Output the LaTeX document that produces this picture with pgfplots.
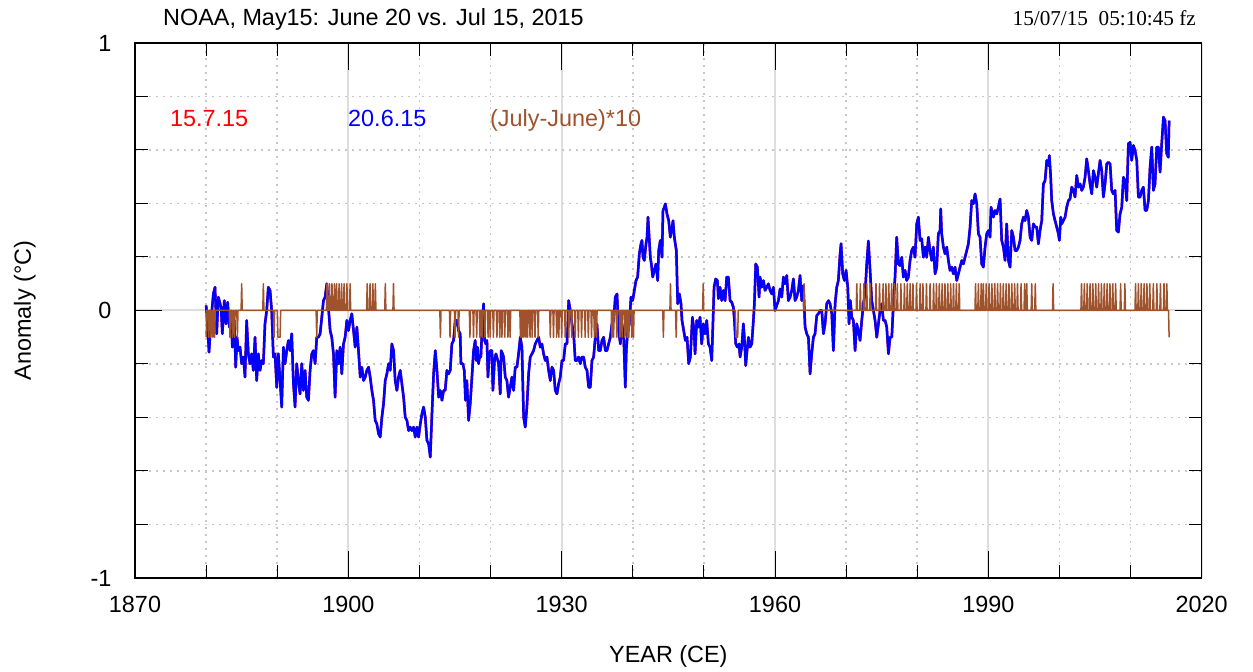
\documentclass[border=0pt]{standalone}
\usepackage{fontspec}
\setmainfont{Liberation Sans}
\newfontfamily\seriffont{Liberation Serif}
\usepackage{pgfplots}
\usepackage{pgfplotstable}
\pgfplotsset{compat=1.18}
\definecolor{myblue}{RGB}{0,0,255}
\definecolor{myred}{RGB}{255,0,0}
\definecolor{mybrown}{RGB}{160,82,45}
\newcommand\bigfont{\fontsize{23.4pt}{28pt}\selectfont}

\pgfplotstableread[row sep=\\]{
year value\\
1880.00 0.019\\ 1880.10 -0.012\\ 1880.41 -0.156\\ 1880.69 -0.037\\ 1881.02 0.062\\ 1881.25 0.087\\ 1881.49 -0.087\\ 1881.72 0.050\\
1882.10 0.012\\ 1882.28 -0.087\\ 1882.56 0.037\\ 1882.80 -0.050\\ 1883.03 0.031\\ 1883.27 -0.062\\ 1883.50 -0.012\\ 1883.69 -0.137\\
1883.97 -0.037\\ 1884.16 -0.212\\ 1884.35 -0.100\\ 1884.53 -0.150\\ 1884.77 -0.137\\ 1885.00 -0.199\\ 1885.24 -0.174\\ 1885.47 -0.249\\
1885.70 -0.037\\ 1885.94 -0.162\\ 1886.17 -0.199\\ 1886.41 -0.162\\ 1886.64 -0.224\\ 1886.88 -0.100\\ 1887.11 -0.262\\ 1887.35 -0.162\\
1887.58 -0.224\\ 1887.82 -0.187\\ 1888.05 -0.199\\ 1888.28 -0.050\\ 1888.52 0.000\\ 1888.75 0.087\\ 1888.99 0.075\\ 1889.22 0.000\\
1889.46 -0.174\\ 1889.69 -0.162\\ 1889.93 -0.287\\ 1890.16 -0.162\\ 1890.40 -0.262\\ 1890.63 -0.361\\ 1890.87 -0.137\\ 1891.10 -0.199\\
1891.34 -0.150\\ 1891.57 -0.112\\ 1891.81 -0.150\\ 1892.04 -0.087\\ 1892.28 -0.274\\ 1892.51 -0.361\\ 1892.74 -0.199\\ 1892.98 -0.262\\
1893.21 -0.312\\ 1893.45 -0.199\\ 1893.68 -0.299\\ 1893.92 -0.224\\ 1894.15 -0.324\\ 1894.39 -0.336\\ 1894.62 -0.224\\ 1894.86 -0.162\\
1895.09 -0.150\\ 1895.33 -0.199\\ 1895.56 -0.100\\ 1895.80 -0.100\\ 1896.03 -0.087\\ 1896.27 -0.025\\ 1896.50 0.037\\ 1896.73 0.050\\
1896.97 0.100\\ 1897.20 0.012\\ 1897.44 -0.075\\ 1897.67 -0.100\\ 1897.91 -0.162\\ 1898.14 -0.324\\ 1898.38 -0.150\\ 1898.61 -0.199\\
1898.85 -0.137\\ 1899.08 -0.237\\ 1899.32 -0.125\\ 1899.55 -0.100\\ 1899.79 -0.037\\ 1900.02 -0.075\\ 1900.26 -0.037\\ 1900.49 -0.012\\
1900.73 -0.075\\ 1900.96 -0.137\\ 1901.20 -0.062\\ 1901.43 -0.150\\ 1901.67 -0.249\\ 1901.90 -0.212\\ 1902.14 -0.262\\ 1902.37 -0.249\\
1902.60 -0.224\\ 1902.84 -0.212\\ 1903.07 -0.249\\ 1903.31 -0.299\\ 1903.54 -0.336\\ 1903.78 -0.411\\ 1904.01 -0.424\\ 1904.25 -0.461\\
1904.48 -0.473\\ 1904.72 -0.399\\ 1904.95 -0.349\\ 1905.19 -0.262\\ 1905.42 -0.237\\ 1905.66 -0.199\\ 1905.89 -0.224\\ 1906.12 -0.125\\
1906.36 -0.150\\ 1906.59 -0.262\\ 1906.83 -0.299\\ 1907.06 -0.249\\ 1907.30 -0.224\\ 1907.53 -0.274\\ 1907.77 -0.324\\ 1908.00 -0.399\\
1908.24 -0.411\\ 1908.47 -0.449\\ 1908.71 -0.436\\ 1908.94 -0.449\\ 1909.18 -0.436\\ 1909.41 -0.473\\ 1909.65 -0.436\\ 1909.88 -0.473\\
1910.12 -0.424\\ 1910.35 -0.386\\ 1910.58 -0.361\\ 1910.82 -0.399\\ 1911.05 -0.486\\ 1911.29 -0.498\\ 1911.52 -0.548\\ 1911.76 -0.386\\
1911.99 -0.237\\ 1912.23 -0.150\\ 1912.46 -0.224\\ 1912.70 -0.324\\ 1912.93 -0.299\\ 1913.17 -0.336\\ 1913.40 -0.299\\
1913.62 -0.299\\ 1913.86 -0.224\\ 1914.09 -0.237\\ 1914.33 -0.224\\ 1914.56 -0.125\\ 1914.80 -0.112\\ 1915.03 -0.037\\ 1915.27 -0.037\\
1915.50 -0.075\\ 1915.73 -0.087\\ 1915.83 -0.199\\ 1916.11 -0.199\\ 1916.30 -0.224\\ 1916.48 -0.336\\ 1916.67 -0.262\\ 1916.91 -0.411\\
1917.14 -0.349\\ 1917.38 -0.249\\ 1917.61 -0.150\\ 1917.84 -0.112\\ 1917.99 -0.187\\ 1918.17 -0.137\\ 1918.31 -0.199\\ 1918.45 -0.174\\
1918.64 -0.174\\ 1918.83 -0.050\\ 1919.02 0.025\\ 1919.16 -0.112\\ 1919.35 -0.125\\ 1919.49 -0.112\\ 1919.63 -0.249\\ 1919.81 -0.174\\
1919.96 -0.150\\ 1920.19 -0.150\\ 1920.33 -0.299\\ 1920.56 -0.187\\ 1920.75 -0.162\\ 1920.89 -0.174\\ 1921.13 -0.199\\ 1921.36 -0.312\\
1921.50 -0.150\\ 1921.69 -0.162\\ 1921.83 -0.174\\ 1922.07 -0.249\\ 1922.30 -0.262\\ 1922.53 -0.324\\ 1922.77 -0.287\\ 1923.00 -0.249\\
1923.24 -0.299\\ 1923.47 -0.212\\ 1923.71 -0.212\\ 1923.94 -0.162\\ 1924.18 -0.100\\ 1924.41 -0.137\\ 1924.65 -0.399\\ 1924.88 -0.436\\
1925.11 -0.361\\ 1925.35 -0.237\\ 1925.58 -0.174\\ 1925.82 -0.162\\ 1926.05 -0.150\\ 1926.29 -0.125\\ 1926.52 -0.112\\ 1926.76 -0.100\\
1926.99 -0.137\\ 1927.22 -0.125\\ 1927.46 -0.162\\ 1927.69 -0.187\\ 1927.93 -0.174\\ 1928.16 -0.224\\ 1928.40 -0.262\\ 1928.63 -0.212\\
1928.87 -0.224\\ 1929.10 -0.299\\ 1929.34 -0.312\\ 1929.57 -0.274\\ 1929.80 -0.249\\ 1930.04 -0.187\\ 1930.27 -0.187\\ 1930.51 -0.125\\
1930.74 -0.125\\ 1930.88 -0.050\\ 1930.98 0.037\\ 1931.21 0.000\\ 1931.45 -0.050\\ 1931.68 -0.087\\ 1931.91 -0.187\\ 1932.15 -0.187\\
1932.38 -0.174\\ 1932.62 -0.199\\ 1932.85 -0.174\\ 1933.09 -0.174\\ 1933.32 -0.212\\ 1933.56 -0.224\\ 1933.79 -0.287\\ 1934.03 -0.287\\
1934.26 -0.187\\ 1934.49 -0.174\\ 1934.73 -0.100\\ 1934.96 -0.050\\ 1935.20 -0.150\\ 1935.43 -0.150\\ 1935.67 -0.112\\ 1935.90 -0.100\\
1936.14 -0.150\\ 1936.37 -0.150\\ 1936.60 -0.125\\ 1936.84 -0.100\\ 1937.07 -0.050\\ 1937.31 -0.037\\ 1937.54 0.050\\ 1937.78 0.062\\
1938.01 -0.075\\ 1938.25 -0.125\\ 1938.48 -0.050\\ 1938.72 -0.100\\ 1938.95 -0.287\\ 1939.09 -0.150\\ 1939.28 -0.075\\ 1939.51 -0.050\\
1939.75 0.050\\ 1939.98 0.037\\ 1940.22 0.075\\ 1940.45 0.112\\ 1940.68 0.125\\ 1940.92 0.212\\ 1941.15 0.249\\ 1941.29 0.262\\
1941.44 0.199\\ 1941.62 0.187\\ 1941.86 0.249\\ 1942.00 0.274\\ 1942.14 0.349\\ 1942.33 0.262\\ 1942.47 0.199\\ 1942.61 0.174\\
1942.80 0.125\\ 1943.03 0.150\\ 1943.26 0.174\\ 1943.50 0.112\\ 1943.64 0.224\\ 1943.87 0.262\\ 1944.11 0.199\\ 1944.25 0.374\\
1944.44 0.386\\ 1944.58 0.399\\ 1944.81 0.361\\ 1945.05 0.336\\ 1945.28 0.274\\ 1945.52 0.312\\ 1945.66 0.336\\ 1945.84 0.274\\
1945.98 0.249\\ 1946.13 0.224\\ 1946.31 0.025\\ 1946.55 0.062\\ 1946.78 0.025\\ 1946.92 -0.037\\ 1947.16 -0.075\\ 1947.39 -0.112\\
1947.63 -0.100\\ 1947.86 -0.199\\ 1948.10 -0.174\\
1948.38 -0.025\\ 1948.62 -0.075\\ 1948.76 -0.162\\ 1948.99 -0.037\\ 1949.23 -0.062\\ 1949.46 -0.025\\ 1949.69 -0.125\\ 1949.93 -0.050\\
1950.16 -0.087\\ 1950.40 -0.037\\ 1950.63 -0.125\\ 1950.87 -0.137\\ 1951.10 -0.187\\ 1951.24 -0.075\\ 1951.43 0.087\\ 1951.66 0.118\\
1951.90 0.112\\ 1952.04 0.044\\ 1952.27 0.087\\ 1952.51 0.037\\ 1952.74 0.075\\ 1952.98 0.037\\ 1953.21 0.125\\ 1953.44 0.125\\
1953.68 0.037\\ 1953.91 0.031\\ 1954.15 0.012\\ 1954.29 -0.037\\ 1954.48 -0.125\\ 1954.71 -0.137\\ 1954.94 -0.125\\ 1955.09 -0.174\\
1955.32 -0.137\\ 1955.55 -0.050\\ 1955.69 -0.100\\ 1955.88 -0.206\\ 1956.07 -0.150\\ 1956.26 -0.100\\ 1956.49 -0.137\\ 1956.73 -0.125\\
1956.96 -0.037\\ 1957.10 0.025\\ 1957.29 0.174\\ 1957.52 0.162\\ 1957.76 0.050\\ 1957.90 0.125\\ 1958.13 0.087\\ 1958.37 0.112\\
1958.60 0.075\\ 1958.84 0.087\\ 1959.07 0.100\\ 1959.30 0.075\\ 1959.54 0.062\\ 1959.77 0.087\\ 1960.01 0.000\\ 1960.24 0.019\\
1960.48 0.037\\ 1960.71 0.081\\ 1960.95 0.050\\ 1961.18 0.125\\ 1961.41 0.100\\ 1961.65 0.131\\ 1961.88 0.037\\ 1962.12 0.050\\
1962.35 0.075\\ 1962.59 0.118\\ 1962.82 0.037\\ 1963.05 0.050\\ 1963.29 0.075\\ 1963.52 0.131\\ 1963.76 0.037\\ 1963.99 0.093\\
1964.23 -0.062\\ 1964.46 -0.087\\ 1964.70 -0.100\\ 1964.93 -0.237\\ 1965.16 -0.162\\ 1965.40 -0.100\\ 1965.63 -0.087\\ 1965.87 -0.019\\
1966.10 -0.012\\ 1966.34 0.000\\ 1966.57 0.000\\ 1966.81 -0.087\\ 1967.04 -0.050\\ 1967.27 0.025\\ 1967.51 0.037\\ 1967.74 0.025\\
1967.98 -0.012\\ 1968.21 -0.150\\ 1968.45 0.025\\ 1968.68 0.087\\ 1968.91 0.112\\ 1969.15 0.212\\ 1969.29 0.250\\ 1969.52 0.137\\
1969.76 0.112\\ 1969.99 0.150\\ 1970.23 0.087\\ 1970.41 -0.050\\ 1970.60 0.037\\ 1970.79 -0.025\\ 1971.02 -0.037\\ 1971.26 -0.150\\
1971.49 -0.050\\ 1971.73 -0.075\\ 1971.96 -0.112\\ 1972.20 -0.037\\ 1972.43 0.025\\ 1972.66 0.062\\ 1972.90 0.174\\ 1973.13 0.260\\
1973.37 0.150\\ 1973.60 0.037\\ 1973.84 0.000\\ 1974.07 -0.037\\ 1974.31 -0.100\\ 1974.54 -0.050\\ 1974.77 0.000\\ 1975.01 0.025\\
1975.24 -0.037\\ 1975.48 -0.037\\ 1975.71 -0.062\\ 1975.95 -0.162\\ 1976.18 -0.100\\ 1976.42 -0.100\\ 1976.65 0.025\\
1976.88 0.125\\ 1977.11 0.274\\ 1977.35 0.174\\ 1977.58 0.168\\ 1977.82 0.199\\ 1978.05 0.125\\ 1978.29 0.150\\ 1978.52 0.112\\
1978.75 0.125\\ 1978.99 0.187\\ 1979.22 0.224\\ 1979.46 0.237\\ 1979.69 0.199\\ 1979.93 0.324\\ 1980.16 0.349\\ 1980.40 0.262\\
1980.63 0.268\\ 1980.86 0.199\\ 1981.10 0.237\\ 1981.33 0.199\\ 1981.57 0.274\\ 1981.80 0.224\\ 1982.04 0.187\\ 1982.27 0.237\\
1982.51 0.137\\ 1982.74 0.162\\ 1982.97 0.287\\ 1983.21 0.299\\ 1983.30 0.380\\ 1983.44 0.287\\ 1983.68 0.237\\ 1983.91 0.212\\
1984.15 0.237\\ 1984.38 0.187\\ 1984.61 0.150\\ 1984.85 0.162\\ 1985.08 0.137\\ 1985.32 0.162\\ 1985.55 0.112\\ 1985.79 0.137\\
1986.02 0.162\\ 1986.26 0.187\\ 1986.49 0.174\\ 1986.72 0.199\\ 1986.96 0.224\\ 1987.19 0.249\\ 1987.43 0.312\\ 1987.66 0.411\\
1987.90 0.399\\ 1988.13 0.436\\ 1988.37 0.399\\ 1988.60 0.287\\ 1988.83 0.274\\ 1989.07 0.174\\ 1989.30 0.162\\ 1989.54 0.237\\
1989.77 0.287\\ 1990.01 0.299\\ 1990.24 0.274\\ 1990.38 0.386\\ 1990.71 0.349\\ 1990.94 0.374\\ 1991.18 0.361\\ 1991.41 0.386\\
1991.65 0.417\\ 1991.88 0.262\\ 1992.12 0.237\\ 1992.35 0.187\\ 1992.58 0.324\\ 1992.82 0.187\\ 1993.05 0.162\\ 1993.29 0.299\\
1993.52 0.274\\ 1993.76 0.224\\ 1993.99 0.224\\ 1994.23 0.237\\ 1994.46 0.262\\ 1994.69 0.324\\ 1994.93 0.349\\ 1995.16 0.336\\
1995.40 0.374\\ 1995.63 0.349\\ 1995.87 0.274\\ 1996.10 0.262\\ 1996.33 0.324\\ 1996.57 0.312\\ 1996.80 0.312\\ 1997.04 0.249\\
1997.27 0.299\\ 1997.51 0.336\\ 1997.74 0.473\\ 1997.98 0.486\\
1998.21 0.561\\ 1998.44 0.542\\ 1998.58 0.579\\ 1998.77 0.498\\ 1998.91 0.411\\ 1999.15 0.361\\ 1999.38 0.336\\ 1999.61 0.312\\
1999.85 0.287\\ 1999.99 0.262\\ 2000.18 0.349\\ 2000.32 0.324\\ 2000.55 0.336\\ 2000.79 0.349\\ 2001.02 0.386\\ 2001.26 0.411\\
2001.49 0.417\\ 2001.72 0.461\\ 2001.96 0.449\\ 2002.19 0.424\\ 2002.43 0.505\\ 2002.66 0.461\\ 2002.90 0.473\\ 2003.13 0.449\\
2003.36 0.461\\ 2003.60 0.498\\ 2003.83 0.567\\ 2004.07 0.523\\ 2004.30 0.473\\ 2004.54 0.436\\ 2004.77 0.523\\ 2005.01 0.498\\
2005.24 0.461\\ 2005.47 0.511\\ 2005.71 0.561\\ 2005.94 0.523\\ 2006.18 0.424\\ 2006.41 0.473\\ 2006.65 0.548\\ 2006.88 0.554\\
2007.12 0.548\\ 2007.35 0.449\\ 2007.58 0.436\\ 2007.82 0.449\\ 2008.05 0.299\\ 2008.29 0.293\\ 2008.52 0.361\\ 2008.76 0.386\\
2008.99 0.498\\ 2009.22 0.486\\ 2009.46 0.411\\ 2009.69 0.623\\ 2009.93 0.629\\ 2010.16 0.561\\ 2010.40 0.617\\ 2010.63 0.598\\
2010.87 0.561\\ 2011.10 0.424\\ 2011.33 0.424\\ 2011.57 0.449\\ 2011.80 0.461\\ 2012.04 0.374\\ 2012.27 0.374\\ 2012.51 0.411\\
2012.74 0.536\\ 2012.98 0.611\\ 2013.21 0.449\\ 2013.44 0.473\\ 2013.68 0.611\\ 2013.91 0.611\\ 2014.15 0.517\\ 2014.38 0.623\\
2014.62 0.723\\ 2014.85 0.710\\ 2015.08 0.586\\ 2015.31 0.573\\ 2015.42 0.710\\
}\bluedata

\begin{document}
\begin{tikzpicture}
\useasboundingbox (0,0) rectangle (1253pt,672pt);
\begin{axis}[
  at={(135pt,94pt)}, anchor=south west,
  scale only axis, width=1066.7pt, height=535pt,
  xmin=1870, xmax=2020, ymin=-1, ymax=1,
  xtick={1870,1900,1930,1960,1990,2020},
  xticklabels={1870,1900,1930,1960,1990,2020},
  minor x tick num=2,
  ytick={-1,0,1}, yticklabels={-1,0,1},
  minor y tick num=4,
  tick align=inside,
  major tick length=27pt, minor tick length=13pt,
  tick style={black, line width=1pt},
  grid=both,
  major grid style={line width=2pt, color=black!13},
  minor grid style={line width=1.8pt, color=black!22, dash pattern=on 2pt off 5pt},
  axis line style={line width=1.3pt},
  tick label style={font=\bigfont},
  xticklabel style={yshift=-15pt},
  yticklabel style={xshift=-20pt},
  every axis x label/.style={at={(axis description cs:0.5,0)}, anchor=base, yshift=-84pt, font=\bigfont},
  every axis y label/.style={at={(axis description cs:-0.0975,0.5)}, anchor=base, rotate=90, font=\bigfont},
  xlabel={YEAR (CE)},
  ylabel={Anomaly (°C)},
]
\addplot[myred, line width=2.5pt, line join=round] table[x=year,y=value]{\bluedata};
\addplot[myblue, line width=2.5pt, line join=round] table[x=year,y=value]{\bluedata};
\addplot[mybrown, line width=1.5pt, line join=round] coordinates {
(1880.00,-0.1)(1880.08,0)
(1880.27,0)(1880.35,-0.1)(1880.43,0)
(1880.57,0)(1880.65,-0.1)(1880.73,0)
(1880.87,0)(1880.95,-0.1)(1881.03,0)
(1881.12,0)(1881.20,-0.1)(1881.28,0)
(1883.27,0)(1883.35,-0.1)(1883.43,0)
(1883.62,0)(1883.70,-0.1)(1883.78,0)
(1883.92,0)(1884.00,-0.1)(1884.08,0)
(1884.32,0)(1884.40,-0.1)(1884.48,0)
(1884.92,0)(1885.00,0.1)(1885.08,0)
(1887.97,0)(1888.05,0.1)(1888.13,0)
(1889.47,0)(1889.55,-0.1)(1889.63,0)
(1890.02,0)(1890.10,-0.1)(1890.40,-0.1)(1890.48,0)
(1895.47,0)(1895.55,-0.1)(1895.63,0)
(1896.92,0)(1897.00,0.1)(1897.08,0)
(1897.27,0)(1897.35,0.1)(1897.43,0)
(1897.62,0)(1897.70,0.1)(1897.78,0)
(1897.97,0)(1898.05,0.1)(1898.13,0)
(1898.27,0)(1898.35,0.1)(1898.43,0)
(1898.62,0)(1898.70,0.1)(1898.78,0)
(1898.97,0)(1899.05,0.1)(1899.13,0)
(1899.32,0)(1899.40,0.1)(1899.48,0)
(1899.72,0)(1899.80,0.1)(1899.88,0)
(1900.17,0)(1900.25,0.1)(1900.33,0)
(1902.57,0)(1902.65,0.1)(1902.73,0)
(1902.97,0)(1903.05,0.1)(1903.13,0)
(1903.37,0)(1903.45,0.1)(1903.53,0)
(1903.72,0)(1903.80,0.1)(1903.88,0)
(1905.12,0)(1905.20,0.1)(1905.28,0)
(1906.27,0)(1906.35,0.1)(1906.43,0)
(1912.87,0)(1912.95,-0.1)(1913.03,0)
(1914.22,0)(1914.30,-0.1)(1914.38,0)
(1914.92,0)(1915.00,-0.1)(1915.08,0)
(1915.42,0)(1915.50,-0.1)(1915.58,0)
(1917.02,0)(1917.10,-0.1)(1917.18,0)
(1917.52,0)(1917.60,-0.1)(1917.68,0)
(1917.97,0)(1918.05,-0.1)(1918.13,0)
(1918.42,0)(1918.50,-0.1)(1918.58,0)
(1918.72,0)(1918.80,-0.1)(1918.88,0)
(1919.12,0)(1919.20,-0.1)(1919.28,0)
(1919.57,0)(1919.65,-0.1)(1919.73,0)
(1919.87,0)(1919.95,-0.1)(1920.03,0)
(1920.32,0)(1920.40,-0.1)(1920.48,0)
(1920.82,0)(1920.90,-0.1)(1920.98,0)
(1921.22,0)(1921.30,-0.1)(1921.38,0)
(1921.52,0)(1921.60,-0.1)(1921.68,0)
(1921.92,0)(1922.00,-0.1)(1922.08,0)
(1922.37,0)(1922.45,-0.1)(1922.53,0)
(1922.67,0)(1922.75,-0.1)(1922.83,0)
(1924.12,0)(1924.20,-0.1)(1924.28,0)
(1924.37,0)(1924.45,-0.1)(1924.53,0)
(1924.62,0)(1924.70,-0.1)(1924.78,0)
(1924.87,0)(1924.95,-0.1)(1925.03,0)
(1925.12,0)(1925.20,-0.1)(1925.28,0)
(1925.47,0)(1925.55,-0.1)(1925.63,0)
(1925.77,0)(1925.85,-0.1)(1925.93,0)
(1926.17,0)(1926.25,-0.1)(1926.33,0)
(1926.62,0)(1926.70,-0.1)(1926.78,0)
(1928.32,0)(1928.40,-0.1)(1928.48,0)
(1928.77,0)(1928.85,-0.1)(1928.93,0)
(1929.22,0)(1929.30,-0.1)(1929.38,0)
(1929.52,0)(1929.60,-0.1)(1929.68,0)
(1929.92,0)(1930.00,-0.1)(1930.08,0)
(1930.42,0)(1930.50,-0.1)(1930.58,0)
(1930.92,0)(1931.00,-0.1)(1931.08,0)
(1931.32,0)(1931.40,-0.1)(1931.48,0)
(1931.82,0)(1931.90,-0.1)(1931.98,0)
(1932.27,0)(1932.35,-0.1)(1932.43,0)
(1932.72,0)(1932.80,-0.1)(1932.88,0)
(1933.22,0)(1933.30,-0.1)(1933.38,0)
(1933.67,0)(1933.75,-0.1)(1933.83,0)
(1934.12,0)(1934.20,-0.1)(1934.28,0)
(1934.52,0)(1934.60,-0.1)(1934.68,0)
(1934.82,0)(1934.90,-0.1)(1934.98,0)
(1936.97,0)(1937.05,-0.1)(1937.13,0)
(1937.22,0)(1937.30,-0.1)(1937.38,0)
(1937.67,0)(1937.75,-0.1)(1937.83,0)
(1938.12,0)(1938.20,-0.1)(1938.28,0)
(1938.42,0)(1938.50,-0.1)(1938.58,0)
(1938.82,0)(1938.90,-0.1)(1938.98,0)
(1939.12,0)(1939.20,-0.1)(1939.28,0)
(1939.37,0)(1939.45,-0.1)(1939.53,0)
(1939.77,0)(1939.85,-0.1)(1939.93,0)
(1940.02,0)(1940.10,-0.1)(1940.18,0)
(1944.22,0)(1944.30,-0.1)(1944.38,0)
(1945.22,0)(1945.30,0.1)(1945.38,0)
(1946.02,0)(1946.10,-0.1)(1946.18,0)
(1949.82,0)(1949.90,0.1)(1949.98,0)
(1954.42,0)(1954.50,-0.1)(1954.75,-0.1)(1954.83,0)
(1964.02,0)(1964.10,0.1)(1964.18,0)
(1971.42,0)(1971.50,0.1)(1971.58,0)
(1971.92,0)(1972.00,0.1)(1972.08,0)
(1972.42,0)(1972.50,0.1)(1972.58,0)
(1972.82,0)(1972.90,0.1)(1972.98,0)
(1973.32,0)(1973.40,0.1)(1973.48,0)
(1974.12,0)(1974.20,0.1)(1974.28,0)
(1974.62,0)(1974.70,0.1)(1974.78,0)
(1975.12,0)(1975.20,0.1)(1975.28,0)
(1975.52,0)(1975.60,0.1)(1975.68,0)
(1975.92,0)(1976.00,0.1)(1976.08,0)
(1976.32,0)(1976.40,0.1)(1976.48,0)
(1976.72,0)(1976.80,0.1)(1976.88,0)
(1977.12,0)(1977.20,0.1)(1977.28,0)
(1977.62,0)(1977.70,0.1)(1977.78,0)
(1978.12,0)(1978.20,0.1)(1978.28,0)
(1978.52,0)(1978.60,0.1)(1978.68,0)
(1978.92,0)(1979.00,0.1)(1979.08,0)
(1979.32,0)(1979.40,0.1)(1979.48,0)
(1979.82,0)(1979.90,0.1)(1979.98,0)
(1980.32,0)(1980.40,0.1)(1980.48,0)
(1980.72,0)(1980.80,0.1)(1980.88,0)
(1981.22,0)(1981.30,0.1)(1981.38,0)
(1981.72,0)(1981.80,0.1)(1981.88,0)
(1982.22,0)(1982.30,0.1)(1982.38,0)
(1982.62,0)(1982.70,0.1)(1982.78,0)
(1983.02,0)(1983.10,0.1)(1983.18,0)
(1983.42,0)(1983.50,0.1)(1983.58,0)
(1983.82,0)(1983.90,0.1)(1983.98,0)
(1984.22,0)(1984.30,0.1)(1984.38,0)
(1984.62,0)(1984.70,0.1)(1984.78,0)
(1985.02,0)(1985.10,0.1)(1985.18,0)
(1985.42,0)(1985.50,0.1)(1985.58,0)
(1985.82,0)(1985.90,0.1)(1985.98,0)
(1988.12,0)(1988.20,0.1)(1988.28,0)
(1988.52,0)(1988.60,0.1)(1988.68,0)
(1988.92,0)(1989.00,0.1)(1989.08,0)
(1989.22,0)(1989.30,0.1)(1989.38,0)
(1989.62,0)(1989.70,0.1)(1989.78,0)
(1990.02,0)(1990.10,0.1)(1990.18,0)
(1990.42,0)(1990.50,0.1)(1990.58,0)
(1990.82,0)(1990.90,0.1)(1990.98,0)
(1991.22,0)(1991.30,0.1)(1991.38,0)
(1991.62,0)(1991.70,0.1)(1991.78,0)
(1992.02,0)(1992.10,0.1)(1992.18,0)
(1992.42,0)(1992.50,0.1)(1992.58,0)
(1992.82,0)(1992.90,0.1)(1992.98,0)
(1993.22,0)(1993.30,0.1)(1993.38,0)
(1993.62,0)(1993.70,0.1)(1993.78,0)
(1994.02,0)(1994.10,0.1)(1994.18,0)
(1994.52,0)(1994.60,0.1)(1994.68,0)
(1995.02,0)(1995.10,0.1)(1995.18,0)
(1995.32,0)(1995.40,0.1)(1995.48,0)
(1996.02,0)(1996.10,0.1)(1996.18,0)
(1996.52,0)(1996.60,0.1)(1996.68,0)
(1999.02,0)(1999.10,0.1)(1999.18,0)
(2003.02,0)(2003.10,0.1)(2003.18,0)
(2003.42,0)(2003.50,0.1)(2003.58,0)
(2003.82,0)(2003.90,0.1)(2003.98,0)
(2004.22,0)(2004.30,0.1)(2004.38,0)
(2004.62,0)(2004.70,0.1)(2004.78,0)
(2005.02,0)(2005.10,0.1)(2005.18,0)
(2005.42,0)(2005.50,0.1)(2005.58,0)
(2005.82,0)(2005.90,0.1)(2005.98,0)
(2006.22,0)(2006.30,0.1)(2006.38,0)
(2006.62,0)(2006.70,0.1)(2006.78,0)
(2007.02,0)(2007.10,0.1)(2007.18,0)
(2007.42,0)(2007.50,0.1)(2007.58,0)
(2007.82,0)(2007.90,0.1)(2007.98,0)
(2008.52,0)(2008.60,0.1)(2008.68,0)
(2009.12,0)(2009.20,0.1)(2009.28,0)
(2010.62,0)(2010.70,0.1)(2010.78,0)
(2011.02,0)(2011.10,0.1)(2011.18,0)
(2011.42,0)(2011.50,0.1)(2011.58,0)
(2011.82,0)(2011.90,0.1)(2011.98,0)
(2012.22,0)(2012.30,0.1)(2012.38,0)
(2012.62,0)(2012.70,0.1)(2012.78,0)
(2013.12,0)(2013.20,0.1)(2013.28,0)
(2013.62,0)(2013.70,0.1)(2013.78,0)
(2014.12,0)(2014.20,0.1)(2014.28,0)
(2014.62,0)(2014.70,0.1)(2014.78,0)
(2015.02,0)(2015.10,0.1)(2015.18,0)
(2015.34,0)(2015.42,-0.1)
};
\node[anchor=base west, inner sep=0, text=myred, font=\bigfont] at (rel axis cs:0.0328,0.843) {15.7.15};
\node[anchor=base west, inner sep=0, text=myblue, font=\bigfont] at (rel axis cs:0.1997,0.843) {20.6.15};
\node[anchor=base west, inner sep=0, text=mybrown, font=\bigfont] at (rel axis cs:0.3328,0.843) {(July-June)*10};
\end{axis}
\node[anchor=base west, inner sep=0, font=\bigfont] at (163pt,646pt) {NOAA, May15: June 20 vs. Jul 15, 2015};
\node[anchor=base east, inner sep=0, font={\seriffont\fontsize{21.2pt}{25pt}\selectfont}] at (1196pt,646pt) {15/07/15\ \ 05:10:45 fz};
\end{tikzpicture}
\end{document}
